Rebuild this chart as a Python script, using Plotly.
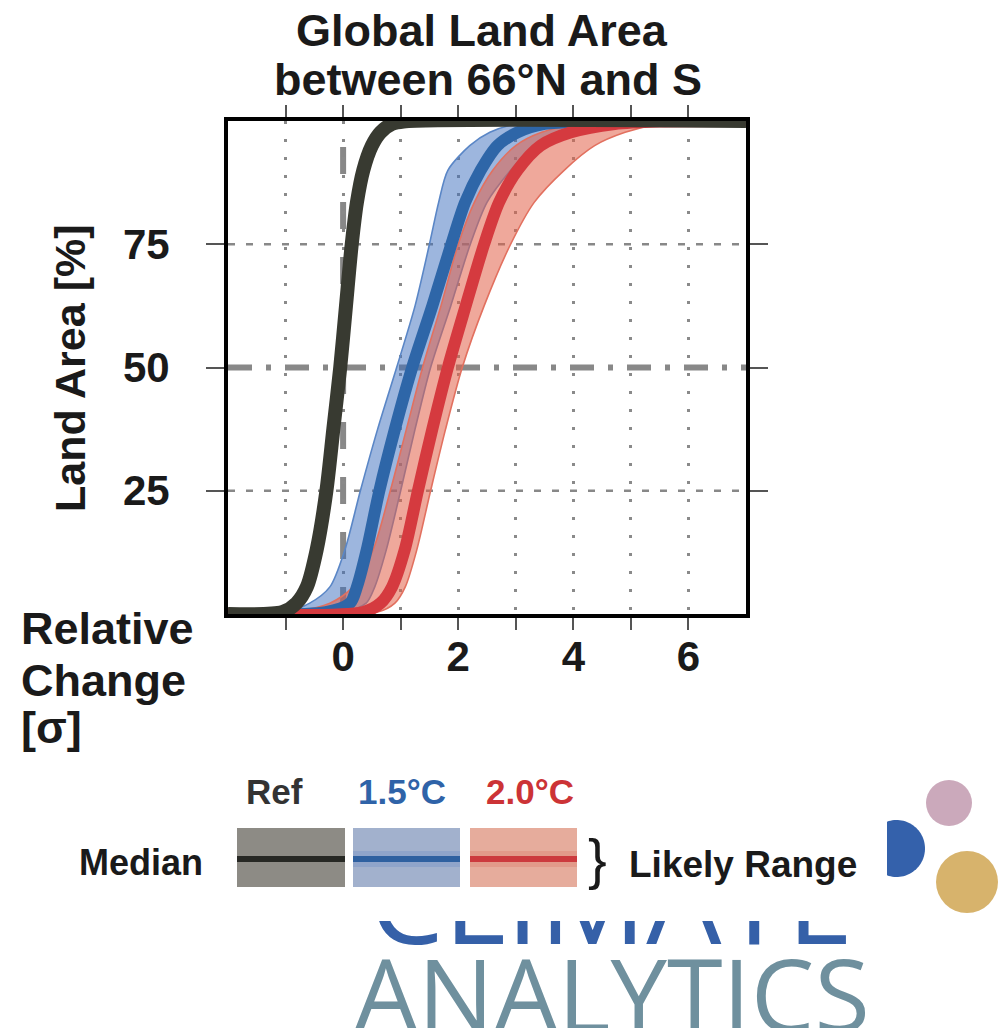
import numpy as np
import plotly.graph_objects as go

W, H = 1008, 1028

# ---------------- data ----------------
# cumulative land area [%] levels and the relative change [sigma] at which each curve reaches them
levels = [0, 0.4, 2.2, 5.5, 13, 25, 37.5, 50, 62.5, 75, 83.5, 90, 95, 97.7, 99.4, 99.9, 100]

ref_median = [-2, -1.05, -0.81, -0.63, -0.46, -0.29, -0.17, -0.05, 0.05, 0.15, 0.24, 0.35, 0.50, 0.65, 0.85, 1.05, 7]

b15_median = [-2, -0.30, 0.12, 0.24, 0.41, 0.63, 0.90, 1.20, 1.55, 1.88, 2.12, 2.39, 2.68, 3.03, 3.50, 4.20, 7]
b15_low = [-2, -1.00, -0.58, -0.23, 0.03, 0.30, 0.60, 0.93, 1.25, 1.50, 1.66, 1.82, 2.20, 2.55, 3.00, 3.50, 7]
b15_high = [-2, 0.00, 0.40, 0.55, 0.75, 1.00, 1.25, 1.52, 1.87, 2.21, 2.50, 2.91, 3.32, 3.73, 4.19, 5.00, 7]

r20_median = [-2, 0.35, 0.65, 0.85, 1.07, 1.30, 1.55, 1.82, 2.13, 2.45, 2.71, 3.03, 3.43, 3.96, 4.72, 5.50, 7]
r20_low = [-2, -0.90, -0.23, 0.17, 0.52, 0.82, 1.10, 1.38, 1.70, 2.00, 2.28, 2.60, 3.00, 3.45, 4.10, 5.00, 7]
r20_high = [-2, 0.60, 0.90, 1.08, 1.28, 1.52, 1.78, 2.07, 2.45, 2.91, 3.32, 3.84, 4.37, 4.90, 5.50, 6.20, 7]

x_ticks = [-1, 0, 1, 2, 3, 4, 5, 6]
x_ticktext = ["", "0", "", "2", "", "4", "", "6"]
y_ticks = [25, 50, 75]
y_dotted = [25, 75]
y_reference = 50
x_reference = 0

legend_labels = ["Ref", "1.5°C", "2.0°C"]

# ---------------- styles ----------------
FONT = "Liberation Sans, Arial, Helvetica, sans-serif"
C_REF = "#383a31"
C_BLUE = "#2e66a8"
C_RED = "#d53a3f"
C_BLUE_FILL = "rgba(60,110,190,0.50)"
C_RED_FILL = "rgba(226,96,72,0.55)"
C_BLUE_EDGE = "#5a86c6"
C_RED_EDGE = "#e2705f"
GRAY = "#888888"


def px(x):
    return x / W


def py(y):
    return 1 - y / H


fig = go.Figure()


def band(low, high, fill, edge):
    fig.add_trace(go.Scatter(
        x=list(low) + list(high)[::-1], y=list(levels) + list(levels)[::-1],
        mode="lines", fill="toself", fillcolor=fill,
        line=dict(width=0, shape="spline", smoothing=0.8),
        hoverinfo="skip", showlegend=False))
    for b in (low, high):
        fig.add_trace(go.Scatter(
            x=b, y=levels, mode="lines",
            line=dict(color=edge, width=1.6, shape="spline", smoothing=0.8),
            hoverinfo="skip", showlegend=False))


band(b15_low, b15_high, C_BLUE_FILL, C_BLUE_EDGE)
band(r20_low, r20_high, C_RED_FILL, C_RED_EDGE)

for xs, col, w in ((b15_median, C_BLUE, 12), (r20_median, C_RED, 12), (ref_median, C_REF, 14)):
    fig.add_trace(go.Scatter(
        x=xs, y=levels, mode="lines",
        line=dict(color=col, width=w, shape="spline", smoothing=0.8),
        hoverinfo="skip", showlegend=False))

# reference lines
for yv in y_dotted:
    fig.add_hline(y=yv, line=dict(color=GRAY, width=2.5, dash="7px,11px"), layer="below")
fig.add_hline(y=y_reference, line=dict(color=GRAY, width=6, dash="24px,14px,5px,14px"), layer="below")
fig.add_vline(x=x_reference, line=dict(color=GRAY, width=6, dash="27px,28px"), layer="below")

# ---------------- axes ----------------
fig.update_layout(
    width=W, height=H, margin=dict(l=0, r=0, t=0, b=0),
    paper_bgcolor="white", plot_bgcolor="white",
    font=dict(family=FONT, color="#1a1a1a"),
    showlegend=False,
    xaxis=dict(domain=[px(228), px(746)], range=[-2, 7], tickvals=x_ticks, ticktext=x_ticktext,
               ticks="outside", ticklen=12, tickwidth=2, tickcolor="#555",
               showline=True, linecolor="black", linewidth=4, mirror="allticks",
               showgrid=True, gridcolor="#8a8a8a", gridwidth=2.5, griddash="3px,15px",
               zeroline=False, ticklabelstandoff=-9,
               tickfont=dict(size=42, family=FONT, weight="bold", color="#1a1a1a")),
    yaxis=dict(domain=[py(614), py(121)], range=[0, 100], tickvals=y_ticks,
               ticks="outside", ticklen=18, tickwidth=2, tickcolor="#555",
               showline=True, linecolor="black", linewidth=4, mirror="allticks",
               showgrid=False, zeroline=False, ticklabelstandoff=28,
               tickfont=dict(size=42, family=FONT, weight="bold", color="#1a1a1a")),
    xaxis2=dict(domain=[0, 1], range=[0, W], visible=False, fixedrange=True),
    yaxis2=dict(domain=[py(949), py(921)], range=[-949, -921], visible=False, fixedrange=True),
)

# ---------------- text ----------------
ann = []


def text(x, y, s, size, color="#1a1a1a", bold=True, xanchor="center", family=FONT, angle=0, weight=None):
    ann.append(dict(x=px(x), y=py(y), xref="paper", yref="paper", text=s, showarrow=False,
                    xanchor=xanchor, yanchor="middle", textangle=angle,
                    font=dict(size=size, color=color, family=family,
                              weight=weight if weight is not None else ("bold" if bold else "normal"))))


text(482, 30, "Global Land Area", 45)
text(488, 80, "between 66°N and S", 45)
text(70, 368, "Land Area [%]", 43, angle=-90)
text(19, 628, "Relative", 45, xanchor="left")
text(19, 680, "Change", 45, xanchor="left")
text(19, 727, "[σ]", 45, xanchor="left")

# legend
leg_cols = ["#333333", "#2f63a8", "#cc3336"]
leg_cx = [274, 402, 530]
for lab, c, cx in zip(legend_labels, leg_cols, leg_cx):
    text(cx, 791, lab, 35, color=c)
text(141, 862, "Median", 36)
text(743, 864, "Likely Range", 37)
text(597, 858, "}", 56, bold=False)

# logo text
text(612, 993, "ANALYTICS", 101, color="#6f909e", family="Open Sans, sans-serif", weight=400)

fig.update_layout(annotations=ann)

# "CLIMATE" word, only its lower part visible (clipped by small subplot)
fig.add_trace(go.Scatter(x=[611], y=[-(956 - 0.35 * 119)], xaxis="x2", yaxis="y2",
                         mode="text", text=["CLIMATE"], cliponaxis=True,
                         textfont=dict(size=119, color="#3560a8", family="Open Sans, sans-serif"),
                         hoverinfo="skip", showlegend=False))

# legend swatches
shapes = []


def rect(x0, y0, x1, y1, color):
    shapes.append(dict(type="rect", xref="paper", yref="paper", x0=px(x0), x1=px(x1),
                       y0=py(y1), y1=py(y0), fillcolor=color, line=dict(width=0), layer="above"))


sw = [(237, 345, "#8d8b85", None, "#272824"),
      (353, 460, "#a2b1cd", "#8fa4ca", "#2e60a0"),
      (470, 577, "#e6ac9c", "#e29a8a", "#cc3a3e")]
for x0, x1, fc, halo, lc in sw:
    rect(x0, 828, x1, 887, fc)
    if halo:
        rect(x0, 851, x1, 867, halo)
    rect(x0, 856, x1, 862, lc)

# globes
def circle(cx, cy, r, color):
    shapes.append(dict(type="circle", xref="paper", yref="paper", x0=px(cx - r), x1=px(cx + r),
                       y0=py(cy + r), y1=py(cy - r), fillcolor=color, line=dict(width=0), layer="above"))


circle(949, 803, 23, "#cba9bb")
circle(967, 882, 31, "#d7b36c")
# partially visible blue globe
cx, cy, r, cut = 896.5, 848.5, 28.5, 887
a_lim = np.arccos((cut - cx) / r)
ang = np.linspace(-a_lim, a_lim, 60)
pts = [(cx + r * np.cos(a), cy + r * np.sin(a)) for a in ang]
path = "M " + " L ".join(f"{px(x):.5f},{py(y):.5f}" for x, y in pts) + " Z"
shapes.append(dict(type="path", xref="paper", yref="paper", path=path,
                   fillcolor="#3461ab", line=dict(width=0), layer="above"))

fig.update_layout(shapes=list(fig.layout.shapes) + shapes)

fig.write_html("out.html")
